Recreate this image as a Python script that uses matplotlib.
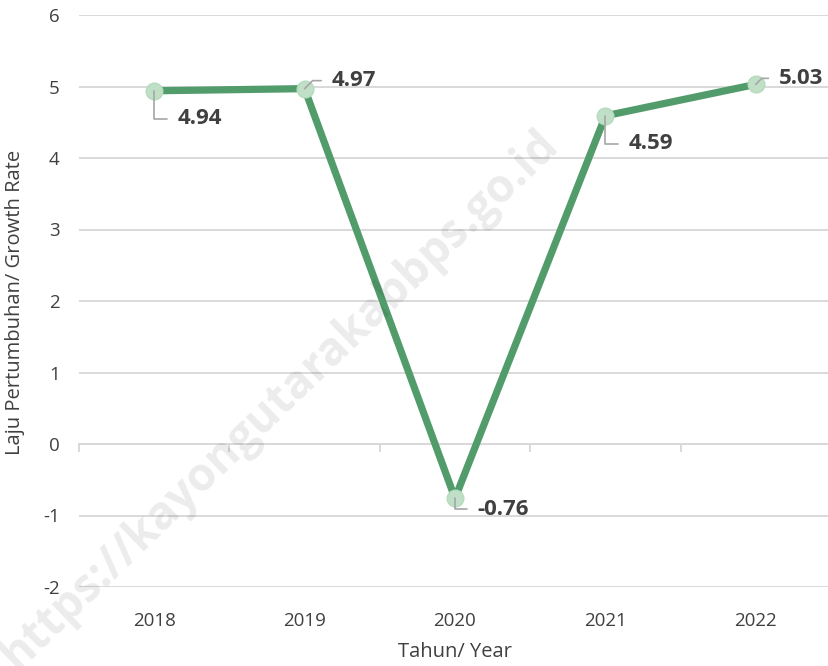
import matplotlib
matplotlib.use("Agg")
import matplotlib.pyplot as plt

years = ["2018", "2019", "2020", "2021", "2022"]
growth = [4.94, 4.97, -0.76, 4.59, 5.03]
yticks = [-2, -1, 0, 1, 2, 3, 4, 5, 6]

plt.rcParams['font.family'] = ['Open Sans', 'DejaVu Sans']

W, H = 829, 666
fig = plt.figure(figsize=(W / 100, H / 100), dpi=100)
ax = fig.add_axes([79 / W, 1 - 587 / H, 752 / W, 572 / H])

x = list(range(len(years)))
ax.set_xlim(-0.5, len(years) - 0.5)
ax.set_ylim(-2, 6)

grid_c = '#d9d9d9'
for t in yticks:
    ax.axhline(t, color=grid_c, lw=1.4, zorder=1)

for s in ax.spines.values():
    s.set_visible(False)

ax.set_yticks(yticks)
ax.set_yticklabels([str(t) for t in yticks], fontsize=13.5, color='#404040')
ax.tick_params(axis='y', length=0, pad=14)
ax.set_xticks(x)
ax.set_xticklabels(years, fontsize=13.5, color='#404040')
ax.tick_params(axis='x', length=0, pad=18)

# axis line at y=0 with boundary tick marks
sec = ax.secondary_xaxis(0.25)
sec.set_xticks([i - 0.5 for i in range(len(years) + 1)])
sec.set_xticklabels([])
sec.tick_params(axis='x', length=6, width=1.4, color=grid_c, direction='out')
sec.spines['bottom'].set_color(grid_c)
sec.spines['bottom'].set_linewidth(1.4)

ax.plot(x, growth, color='#529c6c', lw=5.2, zorder=3, solid_joinstyle='miter')
ax.plot(x, growth, ls='none', marker='o', ms=12, mfc='#bfe0c6', mec='#b5dbbd',
        mew=1, zorder=4)

# (dx, dy) offsets in pixels, connection style
label_cfg = [
    ((23, -28), 'angle,angleA=0,angleB=90,rad=0'),
    ((27, 8), 'angle,angleA=0,angleB=45,rad=0'),
    ((22, -11), 'angle,angleA=0,angleB=90,rad=0'),
    ((23, -28), 'angle,angleA=0,angleB=90,rad=0'),
    ((23, 6), 'angle,angleA=0,angleB=45,rad=0'),
]
for xi, v, (off, cs) in zip(x, growth, label_cfg):
    ax.annotate(f"{v:.2f}", xy=(xi, v), xytext=off, textcoords='offset pixels',
                ha='left', va='center', fontsize=16, fontweight='bold',
                color='#404040', zorder=5,
                arrowprops=dict(arrowstyle='-', color='#a6a6a6', lw=1.2,
                                connectionstyle=cs, relpos=(0, 0.5),
                                shrinkA=5.5, shrinkB=0))

fig.text(15 / W, 1 - 302 / H, "Laju Pertumbuhan/ Growth Rate", rotation=90,
         ha='center', va='center', fontsize=14.5, color='#404040')
fig.text(455 / W, 1 - 652 / H, "Tahun/ Year", ha='center', va='center',
         fontsize=14.5, color='#404040')

# watermark
fig.text(280 / W, 1 - 400 / H, "https://kayongutarakabbps.go.id", rotation=44,
         ha='center', va='center', fontsize=33, fontweight='bold',
         color='#000000', alpha=0.08, zorder=0)

fig.savefig("out.png", dpi=100)
